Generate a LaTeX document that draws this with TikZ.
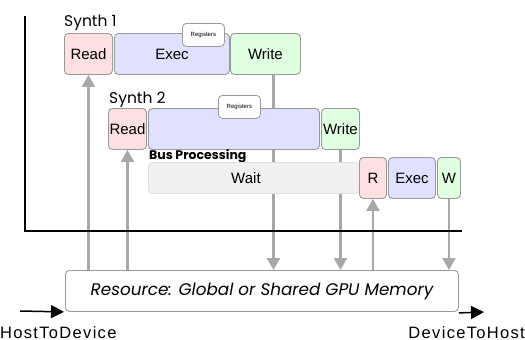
\documentclass[tikz,border=0pt]{standalone}
\usepackage{fontspec}
\setmainfont{Liberation Sans}
\newfontfamily\titlefont{Poppins}
\newfontfamily\hostfont[LetterSpace=8]{Liberation Sans}
\usepackage{xcolor}
\usetikzlibrary{arrows.meta,positioning,calc}

\definecolor{readpink}{HTML}{FFE0E0}
\definecolor{execblue}{HTML}{E0E0FF}
\definecolor{writegreen}{HTML}{E0FFE0}
\definecolor{waitgray}{HTML}{F0F0F0}
\definecolor{edgegray}{HTML}{999999}
\definecolor{feedgray}{HTML}{A8A8A8}

\pgfdeclarelayer{background}
\pgfsetlayers{background,main}

\tikzset{
    stage/.style={draw=edgegray, line width=0.9pt, rounded corners=4pt, inner sep=0pt,
        anchor=north west, minimum height=41pt, font=\fontsize{15}{15}\selectfont},
    regbox/.style={draw=edgegray, line width=0.8pt, fill=white, rounded corners=4pt, inner sep=0pt,
        anchor=north west, minimum width=42pt, minimum height=23pt, font=\fontsize{6}{6}\selectfont},
    title/.style={anchor=base west, inner sep=0pt, font=\titlefont\fontsize{15.5}{15.5}\selectfont},
    feed/.style={draw=feedgray, line width=2.2pt, -{Triangle[width=13pt,length=12pt]}},
    hostarrow/.style={line width=1.5pt, -{Triangle[width=13pt,length=13pt]}},
    hostlabel/.style={inner sep=0pt, font=\hostfont\fontsize{16.5}{16.5}\selectfont},
}

\begin{document}
\begin{tikzpicture}[x=1pt, y=-1pt]
    \useasboundingbox (0,0) rectangle (525,340);

    % time axis
    \draw[line width=2.2pt] (25,16) -- (25,231) -- (462,231);

    % first synth
    \node[title] (syn1) at (64,26) {Synth 1};
    \node[stage, fill=readpink, minimum width=48pt] (read1) at (64,33) {Read};
    \node[stage, fill=execblue, minimum width=115pt] (exec1) at (114,33) {Exec};
    \node[regbox] (reg1) at (182,23) {Registers};
    \node[stage, fill=writegreen, minimum width=70pt] (write1) at (230,33) {Write};

    % second synth
    \node[title] (syn2) at (109,103) {Synth 2};
    \node[stage, fill=readpink, minimum width=38pt] (read2) at (108,108) {Read};
    \node[stage, fill=execblue, minimum width=171pt] (exec2) at (148,108) {};
    \node[regbox] (reg2) at (218,95) {Registers};
    \node[stage, fill=writegreen, minimum width=38pt] (write2) at (321,108) {Write};

    % bus
    \node[title, font=\titlefont\bfseries\fontsize{12.5}{12.5}\selectfont] (bus) at (149,159) {Bus Processing};
    \node[stage, draw=gray!25, fill=waitgray, minimum width=211pt, minimum height=31pt] (wait) at (148,162) {\hspace{-16pt}Wait};
    \node[stage, fill=readpink, minimum width=27pt] (r3) at (359,157) {R};
    \node[stage, fill=execblue, minimum width=47pt] (exec3) at (388,157) {Exec};
    \node[stage, fill=writegreen, minimum width=23pt] (w3) at (437,157) {W};

    % memory
    \node[stage, fill=white, minimum width=393pt, font=\titlefont\itshape\fontsize{16.8}{16.8}\selectfont] (mem) at (65,270) {Resource: Global or Shared GPU Memory};

    \coordinate (hin) at (20,311);
    \coordinate (hout) at (484,312);
    \draw[hostarrow] (hin) -- ([xshift=-1pt]mem.south west);
    \draw[hostarrow] ([yshift=-1pt]mem.south east) -- (hout);
    \node[hostlabel, anchor=base west] (htd) at (0,338) {HostToDevice};
    \node[hostlabel, anchor=base east] (dth) at (525,338) {DeviceToHost};

    % loads and stores, behind the boxes
    \begin{pgfonlayer}{background}
        \draw[feed] (read1.south |- mem.north) -- (read1.south);
        \draw[feed] (read2.south |- mem.north) -- (read2.south);
        \draw[feed] ([xshift=8pt]write1.south) -- ([xshift=8pt]write1.south |- mem.north);
        \draw[feed] (write2.south) -- (write2.south |- mem.north);
        \draw[feed] (r3.south |- mem.north) -- (r3.south);
        \draw[feed] (w3.south) -- (w3.south |- mem.north);
    \end{pgfonlayer}
\end{tikzpicture}
\end{document}
